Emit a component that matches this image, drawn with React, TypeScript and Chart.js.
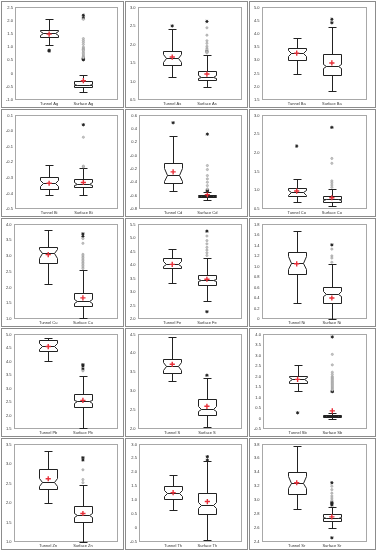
import React, { useEffect, useRef } from "react";
import { Chart, registerables } from "chart.js";
Chart.register(...registerables);

// ---------- data ----------
const elements = ["Ag", "As", "Ba", "Bi", "Cd", "Co", "Cu", "Fe", "Ni", "Pb", "S", "Sb", "Zn", "Th", "Sr"];
const yMin = [-1, 0.5, 1.5, -0.5, -0.8, 0.5, 1, 2, 0, 1.5, 2, -0.5, 1, -0.5, 2.4];
const yMax = [2.5, 3, 5, 0.1, 0.6, 3, 4, 5.5, 1.8, 5, 4.5, 4, 3.5, 3, 3.8];
const yStep = [0.5, 0.5, 0.5, 0.1, 0.2, 0.5, 0.5, 0.5, 0.2, 0.5, 0.5, 0.5, 0.5, 0.5, 0.2];

// [whisker low, Q1, median, Q3, whisker high]
const tunnelBox = [
  [1.08, 1.38, 1.52, 1.65, 2.05],
  [1.12, 1.44, 1.63, 1.82, 2.42],
  [2.48, 3.02, 3.27, 3.48, 3.85],
  [-0.41, -0.37, -0.335, -0.295, -0.215],
  [-0.53, -0.41, -0.29, -0.11, 0.29],
  [0.68, 0.84, 0.95, 1.07, 1.3],
  [2.12, 2.78, 3.09, 3.27, 3.82],
  [3.33, 3.9, 4.05, 4.27, 4.58],
  [0.3, 0.86, 1.07, 1.28, 1.68],
  [4.03, 4.37, 4.58, 4.8, 4.88],
  [3.27, 3.47, 3.66, 3.86, 4.43],
  [1.32, 1.67, 1.87, 2.04, 2.55],
  [2.0, 2.37, 2.54, 2.86, 3.33],
  [0.66, 1.04, 1.24, 1.5, 1.9],
  [2.88, 3.09, 3.25, 3.4, 3.78],
];
const surfaceBox = [
  [-0.7, -0.52, -0.42, -0.29, -0.05],
  [0.85, 1.04, 1.13, 1.28, 1.72],
  [1.85, 2.45, 2.78, 3.22, 4.25],
  [-0.41, -0.36, -0.34, -0.31, -0.24],
  [-0.66, -0.62, -0.6, -0.585, -0.54],
  [0.58, 0.68, 0.76, 0.84, 1.04],
  [1.03, 1.42, 1.57, 1.83, 2.55],
  [2.67, 3.26, 3.44, 3.64, 4.27],
  [0.0, 0.3, 0.48, 0.6, 1.04],
  [1.52, 2.32, 2.52, 2.79, 3.45],
  [2.05, 2.36, 2.53, 2.78, 3.36],
  [-0.03, 0.08, 0.12, 0.17, 0.25],
  [1.0, 1.5, 1.7, 1.91, 2.46],
  [-0.42, 0.52, 0.82, 1.27, 2.4],
  [2.6, 2.7, 2.75, 2.8, 2.9],
];
// [notch low, notch high]
const tunnelNotch = [
  [1.46, 1.6], [1.53, 1.74], [3.16, 3.4], [-0.355, -0.315], [-0.38, -0.19],
  [0.88, 1.02], [2.95, 3.22], [3.97, 4.15], [0.95, 1.2], [4.47, 4.7],
  [3.56, 3.77], [1.78, 1.95], [2.44, 2.65], [1.14, 1.35], [3.17, 3.34],
];
const surfaceNotch = [
  [-0.44, -0.39], [1.1, 1.17], [2.7, 2.87], [-0.345, -0.33], [-0.605, -0.595],
  [0.74, 0.78], [1.52, 1.62], [3.4, 3.49], [0.44, 0.53], [2.47, 2.58],
  [2.47, 2.6], [0.11, 0.13], [1.65, 1.75], [0.73, 0.92], [2.74, 2.76],
];
const tunnelMean = [1.49, 1.66, 3.27, -0.335, -0.245, 0.98, 3.04, 4.02, 1.05, 4.55, 3.71, 1.86, 2.62, 1.27, 3.25];
const surfaceMean = [-0.27, 1.2, 2.9, -0.33, -0.585, 0.8, 1.67, 3.47, 0.4, 2.56, 2.6, 0.36, 1.73, 0.95, 2.76];

const tunnelFar = [[0.88, 0.85], [2.5], [], [], [0.49], [2.18], [], [], [], [], [], [0.27], [], [], []];
const surfaceFar = [
  [2.2, 2.1, 0.58, 0.55, 0.52], [2.62, 1.82], [4.55, 4.42], [0.04], [0.32, -0.52, -0.53],
  [2.68], [3.7, 3.62], [5.25, 2.27], [1.41], [3.88, 3.83, 3.72],
  [3.42], [3.88, 1.28, 1.3], [3.16, 3.1], [2.56, 2.44], [3.25, 2.97, 2.95, 2.93, 2.46],
];
const surfaceNear = [
  [2.05, 1.32, 1.25, 1.18, 1.1, 1.0, 0.96, 0.92, 0.9, 0.86, 0.8, 0.75, 0.7, 0.65, 0.62, 0.6],
  [2.45, 2.25, 2.1, 2.03, 1.95, 1.9, 1.86, 1.8, 1.77],
  [],
  [-0.04, -0.23, -0.225],
  [-0.15, -0.21, -0.3, -0.35, -0.4, -0.45, -0.5],
  [1.85, 1.72, 1.25, 1.2, 1.14, 1.08],
  [3.55, 3.4, 3.05, 3.0, 2.95, 2.9, 2.85, 2.8, 2.75, 2.7, 2.65, 2.6],
  [5.07, 4.9, 4.78, 4.65, 4.55, 4.45, 4.35],
  [1.33, 1.2, 1.16, 1.08],
  [3.65],
  [],
  [3.05, 2.55, 2.2, 2.1, 2.0, 1.95, 1.9, 1.85, 1.8, 1.75, 1.7, 1.65, 1.6, 1.55, 1.5, 1.45, 1.4, 1.35],
  [2.85, 2.6, 2.52],
  [],
  [3.2, 3.15, 3.1, 3.06, 3.03, 3.0],
];

// ---------- layout ----------
const colW = [124, 124, 128];
const rowH = [108, 109, 110, 110, 113];
const rightPad = [3, 4, 8];

const FONT = "'Liberation Sans', Arial, sans-serif";

const boxPlugin = {
  id: "boxplot",
  beforeDatasetsDraw(chart: any, _args: any, opts: any) {
    const { ctx, chartArea } = chart;
    const xs = chart.scales.x;
    const ys = chart.scales.y;
    ctx.save();
    ctx.strokeStyle = "#a8a8a8";
    ctx.lineWidth = 1;
    ctx.strokeRect(
      Math.round(chartArea.left) + 0.5,
      Math.round(chartArea.top) + 0.5,
      Math.round(chartArea.right - chartArea.left) - 1,
      Math.round(chartArea.bottom - chartArea.top) - 1
    );
    const Y = (v: number) => Math.round(ys.getPixelForValue(v)) + 0.5;
    for (const b of opts.boxes) {
      const [lo, q1, med, q3, hi] = b.stats;
      let [nLo, nHi] = b.notch;
      nLo = Math.max(nLo, q1);
      nHi = Math.min(nHi, q3);
      const cx = Math.round(xs.getPixelForValue(b.pos)) + 0.5;
      const hw = Math.round(Math.abs(xs.getPixelForValue(b.pos + 0.26) - xs.getPixelForValue(b.pos)));
      const cw = Math.round(Math.abs(xs.getPixelForValue(b.pos + 0.12) - xs.getPixelForValue(b.pos)));
      const inset = Math.max(2, Math.round(hw * 0.3));
      const L = cx - hw, R = cx + hw;
      ctx.strokeStyle = "#222";
      ctx.lineWidth = 1;
      ctx.beginPath();
      ctx.moveTo(cx, Y(q3));
      ctx.lineTo(cx, Y(hi));
      ctx.moveTo(cx - cw, Y(hi));
      ctx.lineTo(cx + cw, Y(hi));
      ctx.moveTo(cx, Y(q1));
      ctx.lineTo(cx, Y(lo));
      ctx.moveTo(cx - cw, Y(lo));
      ctx.lineTo(cx + cw, Y(lo));
      ctx.stroke();
      ctx.beginPath();
      ctx.moveTo(L, Y(q3));
      ctx.lineTo(R, Y(q3));
      ctx.lineTo(R, Y(nHi));
      ctx.lineTo(R - inset, Y(med));
      ctx.lineTo(R, Y(nLo));
      ctx.lineTo(R, Y(q1));
      ctx.lineTo(L, Y(q1));
      ctx.lineTo(L, Y(nLo));
      ctx.lineTo(L + inset, Y(med));
      ctx.lineTo(L, Y(nHi));
      ctx.closePath();
      ctx.fillStyle = "#fff";
      ctx.fill();
      ctx.stroke();
      ctx.beginPath();
      ctx.moveTo(L + inset, Y(med));
      ctx.lineTo(R - inset, Y(med));
      ctx.stroke();
    }
    ctx.restore();
  },
};

function Panel({ i }: { i: number }) {
  const ref = useRef<HTMLCanvasElement>(null);
  const col = i % 3;
  const row = Math.floor(i / 3);
  const left = colW.slice(0, col).reduce((a, b) => a + b, 0);
  const top = rowH.slice(0, row).reduce((a, b) => a + b, 0);
  const w = colW[col];
  const h = rowH[row];
  const cw = w - 3;
  const chH = h - 3;

  useEffect(() => {
    if (!ref.current) return;
    const el = elements[i];
    const pts = (x: number, arr: number[]) => arr.map((v) => ({ x, y: v }));
    const chart = new Chart(ref.current, {
      type: "scatter",
      data: {
        datasets: [
          {
            label: "near",
            data: pts(2, surfaceNear[i]),
            pointStyle: "circle",
            pointRadius: 1.1,
            backgroundColor: "#c8c8c8",
            borderColor: "#9a9a9a",
            borderWidth: 0.6,
          },
          {
            label: "far",
            data: [...pts(1, tunnelFar[i]), ...pts(2, surfaceFar[i])],
            pointStyle: "star",
            pointRadius: 1.6,
            borderColor: "#222",
            backgroundColor: "#222",
            borderWidth: 1,
          },
          {
            label: "mean",
            data: [{ x: 1, y: tunnelMean[i] }, { x: 2, y: surfaceMean[i] }],
            pointStyle: "cross",
            pointRadius: 2.6,
            borderColor: "#e8303a",
            borderWidth: 1.4,
          },
        ],
      },
      options: {
        responsive: false,
        animation: false,
        events: [],
        layout: { padding: { left: 2, right: rightPad[col], top: 3, bottom: 0 } },
        plugins: {
          legend: { display: false },
          tooltip: { enabled: false },
          boxplot: {
            boxes: [
              { pos: 1, stats: tunnelBox[i], notch: tunnelNotch[i] },
              { pos: 2, stats: surfaceBox[i], notch: surfaceNotch[i] },
            ],
          },
        } as any,
        scales: {
          x: {
            type: "linear",
            min: 0,
            max: 3,
            grid: { display: false, drawTicks: false, tickLength: 0 },
            border: { display: false },
            afterBuildTicks: (s: any) => {
              s.ticks = [{ value: 1 }, { value: 2 }];
            },
            afterFit: (s: any) => {
              s.height = 7;
            },
            ticks: {
              autoSkip: false,
              maxRotation: 0,
              padding: 1.5,
              color: "#333",
              font: { family: FONT, size: 4 },
              callback: (v: any) => (v === 1 ? "Tunnel " + el : v === 2 ? "Surface " + el : ""),
            },
          },
          y: {
            type: "linear",
            min: yMin[i],
            max: yMax[i],
            grid: { display: false, drawTicks: false, tickLength: 0 },
            border: { display: false },
            ticks: {
              stepSize: yStep[i],
              padding: 2,
              color: "#333",
              font: { family: FONT, size: 4 },
            },
          },
        },
      },
      plugins: [boxPlugin as any],
    });
    return () => chart.destroy();
  }, [i]);

  return (
    <div style={{ position: "absolute", left, top, width: w, height: h }}>
      <div
        style={{
          position: "absolute",
          left: 1,
          top: 1,
          right: 0,
          bottom: 0,
          border: "1px solid #8c8c8c",
          background: "#fff",
        }}
      >
        <canvas ref={ref} width={cw} height={chH} style={{ display: "block", width: cw, height: chH }} />
      </div>
    </div>
  );
}

export default function App() {
  useEffect(() => {
    document.body.style.margin = "0";
  }, []);
  return (
    <div style={{ position: "absolute", left: 0, top: 0, width: 376, height: 550, background: "#fff" }}>
      {elements.map((_, i) => (
        <Panel key={i} i={i} />
      ))}
    </div>
  );
}
